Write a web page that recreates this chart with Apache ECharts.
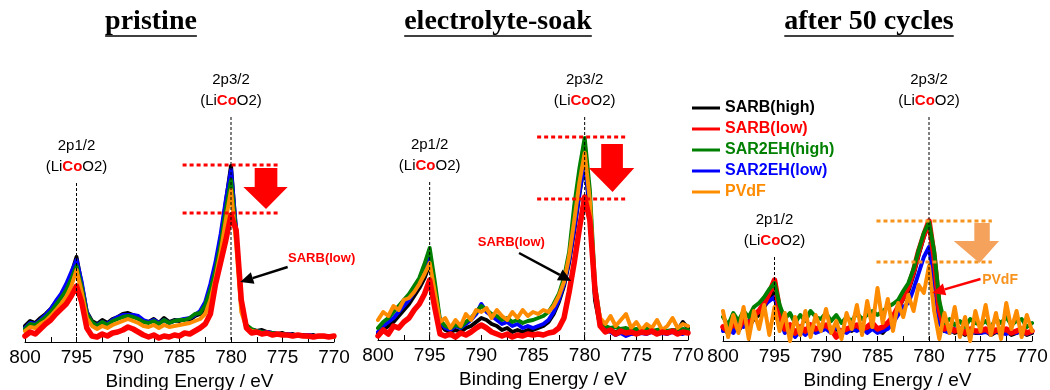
<!DOCTYPE html>
<html>
<head>
<meta charset="utf-8">
<script src="https://cdn.jsdelivr.net/npm/echarts@6/dist/echarts.min.js"></script>
<style>
  html, body { margin: 0; padding: 0; background: #fff; }
  #main { width: 1050px; height: 390px; }
</style>
</head>
<body>
<div id="main"></div>
<script>
// binding energy grid (eV), 0.5 eV steps
const energy = [
  800, 799.5, 799, 798.5, 798, 797.5, 797, 796.5, 796, 795.5,
  795, 794.5, 794, 793.5, 793, 792.5, 792, 791.5, 791, 790.5,
  790, 789.5, 789, 788.5, 788, 787.5, 787, 786.5, 786, 785.5,
  785, 784.5, 784, 783.5, 783, 782.5, 782, 781.5, 781, 780.5,
  780, 779.5, 779, 778.5, 778, 777.5, 777, 776.5, 776, 775.5,
  775, 774.5, 774, 773.5, 773, 772.5, 772, 771.5, 771, 770.5, 770,
];
const xTicks = [800, 795, 790, 785, 780, 775, 770];
const panelTitles = ["pristine", "electrolyte-soak", "after 50 cycles"];
const seriesNames = ["SARB(high)", "SARB(low)", "SAR2EH(high)", "SAR2EH(low)", "PVdF"];

// pristine
const pristineSarbHigh = [16,21,19,24,28,33,40,47,55,68, 85, 58,30,21,18,22,19,23,25,28, 29, 27,25,21,20,23,19,24,20,22, 21, 23,22,26,28,35,52,74,102,140, 176, 108,35,15,12,11,12,10,9,8, 9, 7,8,6,7,6,7,5,6,5,6];
const pristineSarbLow = [6,10,8,13,18,22,28,33,38,46, 56, 40,14,6,5,8,6,9,10,12, 15, 13,10,7,5,7,4,6,5,7, 6, 9,8,11,14,18,28,58,80,102, 127, 112,42,14,9,10,8,9,7,8, 7, 7,6,7,6,6,5,6,6,5,6];
const pristineSar2ehHigh = [13,18,17,21,25,30,37,44,52,63, 76, 55,28,20,16,20,17,21,23,25, 26, 25,23,20,19,21,18,22,19,21, 22, 22,24,28,29,37,52,72,98,132, 162, 108,38,17,13,11,10,9,9,8, 8, 7,7,6,6,6,6,5,6,5,5];
const pristineSar2ehLow = [14,19,18,22,27,33,41,48,58,70, 82, 60,30,19,17,20,18,22,25,27, 27, 27,26,22,20,22,19,22,19,21, 22, 23,24,27,31,40,58,80,108,142, 172, 112,36,16,12,11,10,10,9,8, 8, 8,7,7,6,7,6,6,5,6,5];
const pristinePvdf = [11,15,14,18,21,26,32,38,45,56, 72, 50,24,16,13,16,14,17,19,21, 23, 21,19,16,15,17,14,17,15,16, 17, 18,19,21,23,28,42,64,90,122, 152, 98,30,14,11,10,9,8,8,7, 7, 7,6,6,6,5,6,5,5,5,5];

// electrolyte-soak
const soakSarbHigh = [6,10,14,18,24,30,36,44,52,62, 76, 48,16,10,8,10,8,12,14,18, 22, 20,16,14,10,12,8,10,8,10, 10, 12,14,18,26,38,54,78,110,146, 180, 128,40,14,10,9,8,10,8,9, 8, 9,8,9,8,9,8,9,10,18,12];
const soakSarbLow = [4,10,6,14,12,18,22,30,36,46, 60, 32,6,4,6,3,7,5,8,12, 15, 12,8,6,4,6,3,5,4,6, 5, 6,5,7,8,12,22,48,78,112, 143, 120,50,14,8,10,6,9,7,8, 6, 8,7,9,6,8,7,9,6,8,7];
const soakSar2ehHigh = [12,18,22,28,34,40,46,54,62,76, 92, 58,20,14,12,15,13,18,22,28, 34, 30,26,24,20,22,18,20,17,19, 20, 22,24,28,36,46,62,88,135,172, 202, 150,55,20,14,12,13,11,12,10, 11, 10,12,9,10,11,9,10,9,11,10];
const soakSar2ehLow = [8,14,18,22,28,34,40,48,56,68, 84, 52,18,12,10,14,12,16,20,26, 36, 28,24,20,16,18,14,16,12,14, 12, 14,16,20,28,40,56,80,112,148, 178, 132,45,16,10,8,5,7,4,6, 6, 7,6,8,6,7,6,8,7,6,8];
const soakPvdf = [20,28,24,34,30,40,42,48,56,66, 77, 48,18,22,12,20,14,26,20,30, 28, 32,22,30,24,20,28,22,30,24, 28, 26,30,28,34,44,58,84,120,158, 187, 140,48,22,16,24,14,20,26,12, 18, 10,16,12,20,10,14,22,12,16,14];

// after 50 cycles
const cycledSarbHigh = [12,8,16,10,18,14,22,26,34,42, 50, 26,10,14,6,12,8,14,10,12, 14, 10,12,8,12,10,14,10,12,16, 10, 8,14,22,32,42,50,66,86,104, 118, 80,30,10,12,8,10,6,10,8, 8, 10,6,9,8,10,6,8,10,6,8];
const cycledSarbLow = [14,10,18,12,22,16,26,30,38,48, 61, 30,12,16,8,14,10,16,12,14, 16, 12,4,10,12,14,16,12,14,18, 12, 14,18,24,34,44,54,70,90,106, 120, 84,32,12,14,10,12,8,12,10, 10, 12,8,11,10,12,8,10,12,8,10];
const cycledSar2ehHigh = [24,16,28,20,30,24,34,38,44,52, 58, 36,22,28,18,26,20,30,24,22, 28, 20,26,18,24,20,28,22,26,30, 26, 30,34,37,41,50,58,72,91,108, 119, 90,40,18,22,16,20,14,22,18, 16, 20,14,22,18,24,16,20,22,14,18];
const cycledSar2ehLow = [10,14,8,18,14,20,26,30,36,40, 44, 24,8,12,4,10,6,12,8,10, 12, 8,14,10,8,12,10,14,8,12, 8, 10,12,18,26,34,38,52,68,84, 94, 60,18,10,8,12,8,10,7,9, 8, 9,7,10,8,7,9,8,10,7,9];
const cycledPvdf = [30,4,26,8,34,2,30,12,36,6, 34, 10,28,0,24,6,30,4,26,10, 32, 8,20,2,28,12,36,6,40,14, 53, 18,42,10,38,24,46,30,56,48, 75, 30,2,28,8,34,4,24,0,30, 10, 36,6,28,2,38,12,30,4,26,10];

const colors = {
  "SARB(high)": "#000000",
  "SARB(low)": "#ff0000",
  "SAR2EH(high)": "#008000",
  "SAR2EH(low)": "#0000ff",
  PVdF: "#ff8c00",
};
const FONT = "'Liberation Sans', Arial, sans-serif";

const panels = [
  {
    values: {
      "SARB(high)": pristineSarbHigh,
      "SARB(low)": pristineSarbLow,
      "SAR2EH(high)": pristineSar2ehHigh,
      "SAR2EH(low)": pristineSar2ehLow,
      PVdF: pristinePvdf,
    },
    order: ["SARB(high)", "SAR2EH(low)", "SAR2EH(high)", "PVdF", "SARB(low)"],
    grid: { left: 25, top: 42, width: 309, height: 300 },
    titleX: 151,
    peaks: [{ e: 795, top: 159, label: "2p1/2" }, { e: 780, top: 225, label: "2p3/2" }],
    levels: { h: [177, 129], from: 784.7, to: 775.2, color: "#ff0000" },
    block: { shaft: [777.7, 775.5], top: 174, base: 155, head: [778.8, 774.5], tip: [776.6, 133], color: "#ff0000" },
    note: { text: "SARB(low)", e: 771.2, h: 84, color: "#ff0000", size: 13 },
    pointer: { from: [774.5, 75], to: [779.1, 60], color: "#000000" },
  },
  {
    values: {
      "SARB(high)": soakSarbHigh,
      "SARB(low)": soakSarbLow,
      "SAR2EH(high)": soakSar2ehHigh,
      "SAR2EH(low)": soakSar2ehLow,
      PVdF: soakPvdf,
    },
    order: ["SARB(high)", "SAR2EH(low)", "SAR2EH(high)", "PVdF", "SARB(low)"],
    grid: { left: 378, top: 40, width: 310, height: 300 },
    titleX: 498,
    peaks: [{ e: 795, top: 158, label: "2p1/2" }, { e: 780, top: 223, label: "2p3/2" }],
    levels: { h: [203, 141], from: 784.6, to: 775.9, color: "#ff0000" },
    block: { shaft: [778.4, 776.3], top: 196, base: 172, head: [779.6, 775.2], tip: [777.3, 148], color: "#ff0000" },
    note: { text: "SARB(low)", e: 787.1, h: 98, color: "#ff0000", size: 13 },
    pointer: { from: [786.35, 87], to: [781.3, 59], color: "#000000" },
  },
  {
    values: {
      "SARB(high)": cycledSarbHigh,
      "SARB(low)": cycledSarbLow,
      "SAR2EH(high)": cycledSar2ehHigh,
      "SAR2EH(low)": cycledSar2ehLow,
      PVdF: cycledPvdf,
    },
    order: ["SARB(high)", "SAR2EH(low)", "SARB(low)", "SAR2EH(high)", "PVdF"],
    grid: { left: 723, top: 41, width: 309, height: 300 },
    titleX: 869,
    peaks: [{ e: 795, top: 84, label: "2p1/2" }, { e: 780, top: 224, label: "2p3/2" }],
    levels: { h: [120, 79], from: 785.1, to: 773.9, color: "#f7941d" },
    block: { shaft: [775.6, 774.1], top: 118, base: 100, head: [777.6, 773.2], tip: [775.1, 78], color: "#f4a25c" },
    note: { text: "PVdF", e: 773.1, h: 61, color: "#f7931e", size: 14 },
    pointer: { from: [775.0, 62], to: [779.7, 48], color: "#ff0000" },
  },
];

const chart = echarts.init(document.getElementById("main"));

const series = [];
panels.forEach((p, i) => {
  p.order.forEach((name) => {
    series.push({
      type: "line",
      name,
      xAxisIndex: i,
      yAxisIndex: i,
      data: p.values[name].map((v, k) => [energy[k], v]),
      symbol: "none",
      showSymbol: false,
      clip: false,
      silent: true,
      lineStyle: {
        color: colors[name],
        width: name === "SARB(low)" ? 5.5 : 4,
        join: "round",
        cap: "round",
      },
      itemStyle: { color: colors[name] },
    });
  });
});

chart.setOption({
  animation: false,
  backgroundColor: "#ffffff",
  grid: panels.map((p) => ({ ...p.grid, containLabel: false, outerBoundsMode: "none" })),
  xAxis: panels.map((p, i) => ({
    gridIndex: i,
    type: "value",
    min: xTicks[xTicks.length - 1],
    max: xTicks[0],
    interval: 5,
    inverse: true,
    name: "Binding Energy / eV",
    nameLocation: "middle",
    nameGap: 29,
    nameTextStyle: { color: "#000", fontSize: 19, fontFamily: FONT, padding: [0, 0, 0, 20] },
    axisLine: { onZero: false, lineStyle: { color: "#000", width: 1 } },
    axisTick: { inside: true, length: 5, lineStyle: { color: "#000" } },
    minorTick: { show: true, splitNumber: 2, length: 5, lineStyle: { color: "#000" } },
    axisLabel: { color: "#000", fontSize: 19, fontFamily: FONT, margin: 6 },
    splitLine: { show: false },
  })),
  yAxis: panels.map((p, i) => ({ gridIndex: i, type: "value", min: 0, max: 300, show: false })),
  legend: {
    orient: "vertical",
    left: 687,
    top: 95,
    icon: "rect",
    itemWidth: 28,
    itemHeight: 3,
    itemGap: 5,
    selectedMode: false,
    textStyle: { fontSize: 16, fontWeight: "bold", fontFamily: FONT, lineHeight: 16 },
    data: seriesNames.map((name) => ({ name, icon: "rect", itemStyle: { color: colors[name] }, textStyle: { color: colors[name] } })),
  },
  series,
});

// annotations, placed through each panel's axes
const g = [];
const pt = (i, e, h) => chart.convertToPixel({ gridIndex: i }, [e, h]);
const seg = (a, b, stroke, lineWidth, lineDash) =>
  g.push({ type: "line", z: 50, shape: { x1: a[0], y1: a[1], x2: b[0], y2: b[1] }, style: { stroke, lineWidth, lineDash } });
const ctx = document.createElement("canvas").getContext("2d");
const titleFont = "bold 28px 'Liberation Serif', 'Times New Roman', serif";
ctx.font = titleFont;

panels.forEach((p, i) => {
  // title + underline
  const w = ctx.measureText(panelTitles[i]).width;
  g.push({ type: "text", x: p.titleX, y: 22, z: 50, style: { text: panelTitles[i], font: titleFont, fill: "#000", align: "center", verticalAlign: "middle" } });
  seg([p.titleX - w / 2, 36], [p.titleX + w / 2, 36], "#000", 1.5);

  // peak markers
  p.peaks.forEach((pk) => {
    const top = pt(i, pk.e, pk.top);
    const bottom = pt(i, pk.e, 0);
    seg(top, bottom, "#000", 1, [3, 2]);
    g.push({ type: "text", x: top[0], y: top[1] - 37, z: 50, style: { text: pk.label, font: "15px " + FONT, fill: "#000", align: "center", verticalAlign: "middle" } });
    g.push({
      type: "text", x: top[0], y: top[1] - 16, z: 50,
      style: {
        text: "{n|(Li}{c|Co}{n|O2)}",
        align: "center",
        verticalAlign: "middle",
        rich: {
          n: { font: "15px " + FONT, fill: "#000" },
          c: { font: "bold 15px " + FONT, fill: "#ff0000" },
        },
      },
    });
  });

  // dotted intensity levels
  p.levels.h.forEach((h) => seg(pt(i, p.levels.from, h), pt(i, p.levels.to, h), p.levels.color, 3, [4, 3]));

  // block arrow
  const b = p.block;
  g.push({
    type: "polygon", z: 55,
    shape: {
      points: [
        pt(i, b.shaft[0], b.top), pt(i, b.shaft[1], b.top), pt(i, b.shaft[1], b.base),
        pt(i, b.head[1], b.base), pt(i, b.tip[0], b.tip[1]), pt(i, b.head[0], b.base), pt(i, b.shaft[0], b.base),
      ],
    },
    style: { fill: b.color },
  });

  // note + pointer arrow
  const np = pt(i, p.note.e, p.note.h);
  g.push({ type: "text", x: np[0], y: np[1], z: 60, style: { text: p.note.text, font: "bold " + p.note.size + "px " + FONT, fill: p.note.color, align: "center", verticalAlign: "middle" } });
  const a = pt(i, p.pointer.from[0], p.pointer.from[1]);
  const c = pt(i, p.pointer.to[0], p.pointer.to[1]);
  const len = Math.hypot(c[0] - a[0], c[1] - a[1]);
  const ux = (c[0] - a[0]) / len, uy = (c[1] - a[1]) / len;
  const base = [c[0] - ux * 13, c[1] - uy * 13];
  seg(a, base, p.pointer.color, 2.5);
  g.push({
    type: "polygon", z: 60,
    shape: { points: [c, [base[0] - uy * 6, base[1] + ux * 6], [base[0] + uy * 6, base[1] - ux * 6]] },
    style: { fill: p.pointer.color },
  });
});

chart.setOption({ graphic: g });
</script>
</body>
</html>
